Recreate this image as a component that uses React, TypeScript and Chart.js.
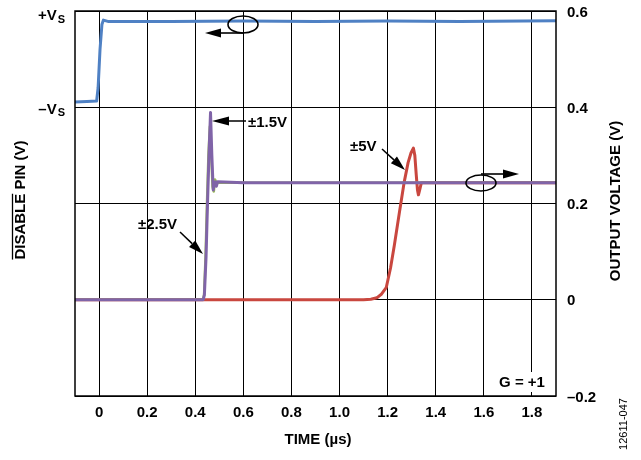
import React, { useEffect, useRef } from 'react';
import { Chart, registerables } from 'chart.js';

Chart.register(...registerables);

// ---------- data ----------
const X_MIN = -0.1;
const X_MAX = 1.9;
const Y_MIN = -0.2;
const Y_MAX = 0.6;
const X_TICKS = [0, 0.2, 0.4, 0.6, 0.8, 1.0, 1.2, 1.4, 1.6, 1.8];
const X_TICK_LABELS = ['0', '0.2', '0.4', '0.6', '0.8', '1.0', '1.2', '1.4', '1.6', '1.8'];
const Y_TICKS = [-0.2, 0, 0.2, 0.4, 0.6];
const Y_TICK_LABELS = ['\u20130.2', '0', '0.2', '0.4', '0.6'];
const LEFT_LABELS = ['+V', '\u2013V'];
const LEFT_LABEL_SUBS = ['S', 'S'];
const LEFT_LABEL_VALUES = [0.6, 0.4];

// DISABLE pin (blue), plotted on the right-axis scale
const BLUE_T = [-0.1, -0.05, -0.01, -0.004, 0.004, 0.012, 0.018, 0.04, 0.3, 0.6, 0.9, 1.2, 1.5, 1.9];
const BLUE_V = [0.411, 0.412, 0.413, 0.44, 0.52, 0.572, 0.581, 0.578, 0.578, 0.579, 0.578, 0.579, 0.578, 0.58];

// ±1.5V (purple)
const PURPLE_T = [-0.1, 0.433, 0.438, 0.445, 0.451, 0.457, 0.4635, 0.469, 0.4747, 0.479, 0.484, 0.488, 0.493, 0.6, 1.0, 1.4, 1.9];
const PURPLE_V = [0, 0, 0.01, 0.09, 0.2, 0.3, 0.389, 0.3, 0.228, 0.242, 0.245, 0.236, 0.245, 0.243, 0.243, 0.243, 0.243];

// ±2.5V (green)
const GREEN_T = [-0.1, 0.432, 0.437, 0.443, 0.449, 0.455, 0.461, 0.467, 0.472, 0.477, 0.482, 0.488, 1.0, 1.9];
const GREEN_V = [0, 0, 0.01, 0.09, 0.2, 0.3, 0.36, 0.3, 0.235, 0.225, 0.25, 0.243, 0.243, 0.243];

// ±5V (red)
const RED_T = [-0.1, 0.5, 1.1, 1.13, 1.155, 1.175, 1.194, 1.212, 1.228, 1.249, 1.269, 1.285, 1.297, 1.307, 1.313, 1.319, 1.324, 1.328, 1.333, 1.34, 1.36, 1.6, 1.9];
const RED_V = [0, 0, 0, 0.001, 0.004, 0.012, 0.025, 0.066, 0.114, 0.182, 0.245, 0.285, 0.305, 0.315, 0.3, 0.259, 0.228, 0.218, 0.228, 0.243, 0.243, 0.243, 0.243];

const toPts = (t: number[], v: number[]) => t.map((x, i) => ({ x, y: v[i] }));

const FONT = '"Liberation Sans", Arial, sans-serif';
const BOLD = (s: number) => `bold ${s}px ${FONT}`;

function arrow(ctx: CanvasRenderingContext2D, x1: number, y1: number, x2: number, y2: number, len = 15, half = 4.5) {
  const ang = Math.atan2(y2 - y1, x2 - x1);
  const bx = x2 - len * Math.cos(ang);
  const by = y2 - len * Math.sin(ang);
  ctx.beginPath();
  ctx.moveTo(x1, y1);
  ctx.lineTo(bx, by);
  ctx.stroke();
  ctx.beginPath();
  ctx.moveTo(x2, y2);
  ctx.lineTo(bx + half * Math.sin(ang), by - half * Math.cos(ang));
  ctx.lineTo(bx - half * Math.sin(ang), by + half * Math.cos(ang));
  ctx.closePath();
  ctx.fill();
}

const overlay = {
  id: 'overlay',
  afterDatasetsDraw(chart: any) {
    const { ctx, chartArea: a, scales } = chart;
    const y = scales.y;
    ctx.save();
    ctx.fillStyle = '#000';
    ctx.strokeStyle = '#000';

    // frame
    ctx.lineWidth = 1.5;
    ctx.strokeRect(a.left, a.top, a.right - a.left, a.bottom - a.top);

    // left labels +VS / –VS
    const offs = [5, 2.5];
    LEFT_LABELS.forEach((lab, i) => {
      const py = y.getPixelForValue(LEFT_LABEL_VALUES[i]) + offs[i];
      ctx.textBaseline = 'middle';
      ctx.textAlign = 'right';
      ctx.font = BOLD(11);
      const right = 65;
      ctx.fillText(LEFT_LABEL_SUBS[i], right, py + 3.5);
      const ws = ctx.measureText(LEFT_LABEL_SUBS[i]).width;
      ctx.font = BOLD(15);
      ctx.fillText(lab, right - ws - 1, py);
    });

    // left title with overline on DISABLE
    ctx.save();
    ctx.translate(21, 200);
    ctx.rotate(-Math.PI / 2);
    ctx.font = BOLD(15);
    ctx.textAlign = 'left';
    ctx.textBaseline = 'middle';
    const full = 'DISABLE PIN (V)';
    const W = ctx.measureText(full).width;
    const w1 = ctx.measureText('DISABLE').width;
    ctx.fillText(full, -W / 2, 0);
    ctx.lineWidth = 1.3;
    ctx.beginPath();
    ctx.moveTo(-W / 2, -8.5);
    ctx.lineTo(-W / 2 + w1, -8.5);
    ctx.stroke();
    ctx.restore();

    // right title
    ctx.save();
    ctx.translate(616, 201);
    ctx.rotate(-Math.PI / 2);
    ctx.font = BOLD(15);
    ctx.textAlign = 'center';
    ctx.textBaseline = 'middle';
    ctx.fillText('OUTPUT VOLTAGE (V)', 0, 0);
    ctx.restore();

    // figure id
    ctx.save();
    ctx.translate(624, 424);
    ctx.rotate(-Math.PI / 2);
    ctx.font = `11px ${FONT}`;
    ctx.textAlign = 'center';
    ctx.textBaseline = 'middle';
    ctx.fillText('12611-047', 0, 0);
    ctx.restore();

    // x title
    ctx.font = BOLD(15);
    ctx.textAlign = 'center';
    ctx.textBaseline = 'middle';
    ctx.fillText('TIME (\u00b5s)', 318, 440);

    // G = +1 with white box
    ctx.fillStyle = '#fff';
    ctx.fillRect(494, 372, 56, 20);
    ctx.fillStyle = '#000';
    ctx.fillText('G = +1', 522, 383);

    // annotations
    ctx.lineWidth = 1.5;
    ctx.textAlign = 'left';
    ctx.fillText('\u00b11.5V', 248, 123);
    arrow(ctx, 246, 121, 212, 121, 17, 4.5);
    ctx.fillText('\u00b12.5V', 138, 225);
    arrow(ctx, 180, 232, 203, 254, 15, 4.5);
    ctx.fillText('\u00b15V', 350, 147);
    arrow(ctx, 382, 149, 405, 170, 15, 4.5);

    // ellipses with axis arrows
    ctx.lineWidth = 1.6;
    ctx.beginPath();
    ctx.ellipse(243, 24.5, 15, 8.5, 0, 0, Math.PI * 2);
    ctx.stroke();
    arrow(ctx, 243, 33, 205, 33, 16, 4.5);
    ctx.beginPath();
    ctx.ellipse(481, 183, 15, 8, 0, 0, Math.PI * 2);
    ctx.stroke();
    arrow(ctx, 481, 174, 519, 174, 16, 4.5);

    ctx.restore();
  },
};

export default function App() {
  const ref = useRef<HTMLCanvasElement>(null);
  useEffect(() => {
    Chart.defaults.font.family = FONT;
    Chart.defaults.color = '#000';
    const common = { pointRadius: 0, tension: 0, fill: false, borderJoinStyle: 'round' as const, borderCapStyle: 'round' as const };
    const chart = new Chart(ref.current!, {
      type: 'line',
      data: {
        datasets: [
          { ...common, data: toPts(BLUE_T, BLUE_V), borderColor: '#4F81C4', borderWidth: 3 },
          { ...common, data: toPts(PURPLE_T, PURPLE_V), borderColor: '#8064A8', borderWidth: 3 },
          { ...common, data: toPts(GREEN_T, GREEN_V), borderColor: '#9BBB59', borderWidth: 2.6 },
          { ...common, data: toPts(RED_T, RED_V), borderColor: '#C9473F', borderWidth: 3 },
        ],
      },
      options: {
        responsive: false,
        animation: false,
        events: [],
        layout: { autoPadding: false, padding: { left: 75, top: 11, right: 0, bottom: 0 } },
        plugins: { legend: { display: false }, tooltip: { enabled: false } },
        scales: {
          x: {
            type: 'linear',
            min: X_MIN,
            max: X_MAX,
            afterBuildTicks: (s: any) => { s.ticks = X_TICKS.map((value) => ({ value })); },
            afterFit: (s: any) => { s.height = 64; s.paddingTop = 0; s.paddingBottom = 0; },
            ticks: {
              autoSkip: false,
              maxRotation: 0,
              padding: 8,
              font: { size: 15, weight: 'bold' },
              color: '#000',
              callback: (_v: any, i: number) => X_TICK_LABELS[i],
            },
            grid: { color: '#000', lineWidth: 1, drawTicks: false },
            border: { display: false },
          },
          y: {
            type: 'linear',
            position: 'right',
            min: Y_MIN,
            max: Y_MAX,
            afterBuildTicks: (s: any) => { s.ticks = Y_TICKS.map((value) => ({ value })); },
            afterFit: (s: any) => { s.width = 85; s.paddingTop = 0; s.paddingBottom = 0; },
            ticks: {
              autoSkip: false,
              padding: 11,
              labelOffset: 1.5,
              font: { size: 15, weight: 'bold', lineHeight: 0.01 },
              color: '#000',
              callback: (_v: any, i: number) => Y_TICK_LABELS[i],
            },
            grid: { color: '#000', lineWidth: 1, drawTicks: false },
            border: { display: false },
          },
        },
      },
      plugins: [overlay],
    });
    return () => chart.destroy();
  }, []);
  return (
    <div style={{ position: 'absolute', left: 0, top: 0, width: 641, height: 460, background: '#fff' }}>
      <canvas ref={ref} width={641} height={460} style={{ display: 'block' }} />
    </div>
  );
}
